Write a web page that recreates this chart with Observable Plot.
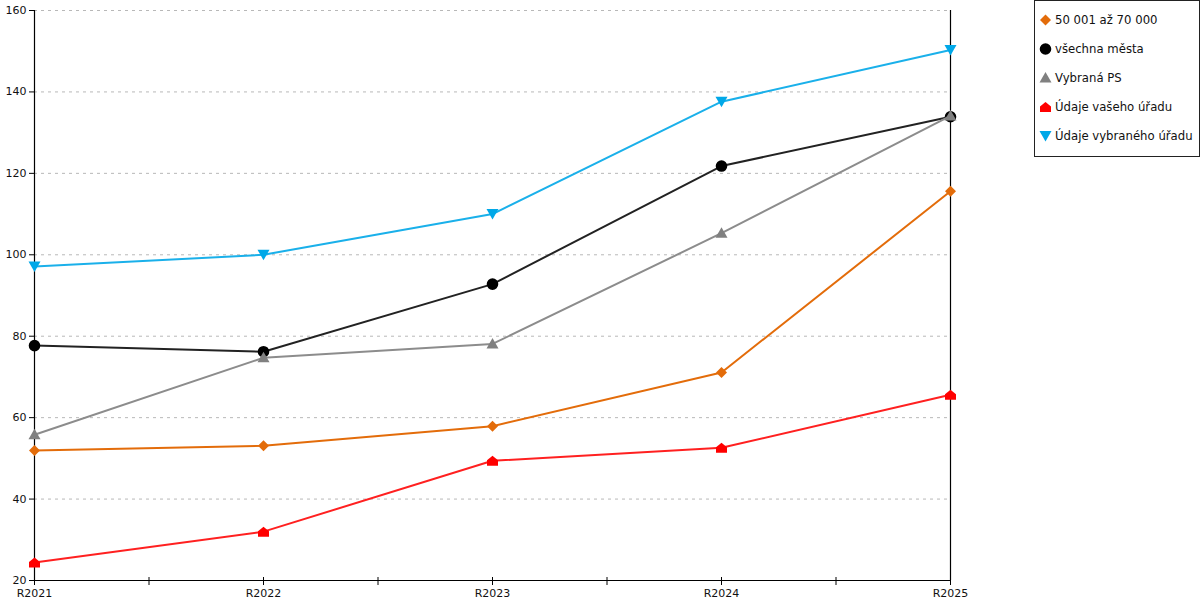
<!DOCTYPE html>
<html>
<head>
<meta charset="utf-8">
<script src="https://cdn.jsdelivr.net/npm/d3@7"></script>
<script src="https://cdn.jsdelivr.net/npm/@observablehq/plot@0.6"></script>
<style>
  html, body { margin: 0; padding: 0; background: #fff; }
  #wrap { position: relative; width: 1200px; height: 600px; font-family: "DejaVu Sans", sans-serif; }
  #legend { position: absolute; left: 1034px; top: 0px; width: 164px; height: 155px; border: 1px solid #222; box-sizing: content-box; }
  .row { position: absolute; left: 4px; height: 16px; display: flex; align-items: center; font-size: 11.7px; color: #111; white-space: nowrap; }
  .row svg { margin-right: 3px; }
</style>
</head>
<body>
<div id="wrap"><div id="legend"></div></div>
<script>
const categories = ["R2021", "R2022", "R2023", "R2024", "R2025"];
const seriesNames = ["50 001 až 70 000", "všechna města", "Vybraná PS", "Údaje vašeho úřadu", "Údaje vybraného úřadu"];
const seriesColors = ["#E36C0A", "#222222", "#8C8C8C", "#FF2020", "#1AB0EA"];
const markerColors = ["#E36C0A", "#000000", "#808080", "#FF0000", "#00A8E8"];
const v50001 = [51.9, 53.1, 57.9, 71.1, 115.6];
const vMesta = [77.7, 76.2, 92.8, 121.8, 133.9];
const vPS = [55.8, 74.7, 78.1, 105.3, 134.1];
const vVas = [24.4, 32.0, 49.4, 52.6, 65.6];
const vVybrany = [97.1, 100.0, 110.0, 137.6, 150.3];
const yTicks = [20, 40, 60, 80, 100, 120, 140, 160];

const seriesValues = [v50001, vMesta, vPS, vVas, vVybrany];

const diamond = {draw(c) { c.moveTo(0, -5.5); c.lineTo(5.5, 0); c.lineTo(0, 5.5); c.lineTo(-5.5, 0); c.closePath(); }};
const circle = {draw(c) { c.moveTo(5.8, 0); c.arc(0, 0, 5.8, 0, 2 * Math.PI); c.closePath(); }};
const triUp = {draw(c) { c.moveTo(0, -6); c.lineTo(6, 4.5); c.lineTo(-6, 4.5); c.closePath(); }};
const house = {draw(c) { c.moveTo(-5.5, 5); c.lineTo(5.5, 5); c.lineTo(5.5, -0.5); c.lineTo(0, -5); c.lineTo(-5.5, -0.5); c.closePath(); }};
const triDown = {draw(c) { c.moveTo(-6, -5); c.lineTo(6, -5); c.lineTo(0, 5.5); c.closePath(); }};
const symbols = [diamond, circle, triUp, house, triDown];

const rows = [];
seriesNames.forEach((s, k) => seriesValues[k].forEach((v, i) => rows.push({series: s, k, i, cat: categories[i], value: v})));

const marks = [
  Plot.gridY(yTicks.slice(1), {stroke: "#b8b8b8", strokeOpacity: 1, strokeDasharray: "3,4", strokeWidth: 1}),
  Plot.ruleX([0, categories.length - 1], {stroke: "#000", strokeWidth: 1.2}),
  Plot.ruleY([yTicks[0]], {stroke: "#000", strokeWidth: 1.2}),
  Plot.axisY({ticks: yTicks, tickSize: 5, tickPadding: 3, fontSize: 11, stroke: "#000", label: null}),
  Plot.axisX({ticks: d3.range(0.5, categories.length - 1, 1), tickSize: 8, dy: -3, tickFormat: () => "", stroke: "#000", label: null}),
  Plot.axisX({ticks: d3.range(0, categories.length), tickSize: 8, dy: -3, tickPadding: 4, fontSize: 11, stroke: "#000", tickFormat: i => categories[i], label: null})
];
seriesNames.forEach((s, k) => {
  const d = rows.filter(r => r.k === k);
  marks.push(Plot.line(d, {x: "i", y: "value", stroke: seriesColors[k], strokeWidth: 2}));
  marks.push(Plot.dot(d, {x: "i", y: "value", symbol: symbols[k], fill: markerColors[k], stroke: "none", r: 6}));
});

const chart = Plot.plot({
  width: 1200,
  height: 600,
  marginLeft: 34,
  marginRight: 250,
  marginTop: 10,
  marginBottom: 20,
  style: {fontFamily: "DejaVu Sans, sans-serif", fontSize: "11px", color: "#111", background: "#fff"},
  x: {domain: [0, categories.length - 1], axis: null, label: null},
  y: {domain: [yTicks[0], yTicks[yTicks.length - 1]], axis: null, label: null},
  marks
});
document.getElementById("wrap").prepend(chart);

// legend
const legend = document.getElementById("legend");
const rowCenters = [19, 48, 77, 106, 135];
seriesNames.forEach((s, k) => {
  const row = document.createElement("div");
  row.className = "row";
  row.style.top = (rowCenters[k] - 8) + "px";
  const svg = d3.create("svg").attr("width", 13).attr("height", 14).attr("viewBox", "-6.5 -7 13 14");
  svg.append("path").attr("d", d3.symbol(symbols[k])()).attr("fill", markerColors[k]);
  row.appendChild(svg.node());
  const t = document.createElement("span");
  t.textContent = s;
  row.appendChild(t);
  legend.appendChild(row);
});
</script>
</body>
</html>
